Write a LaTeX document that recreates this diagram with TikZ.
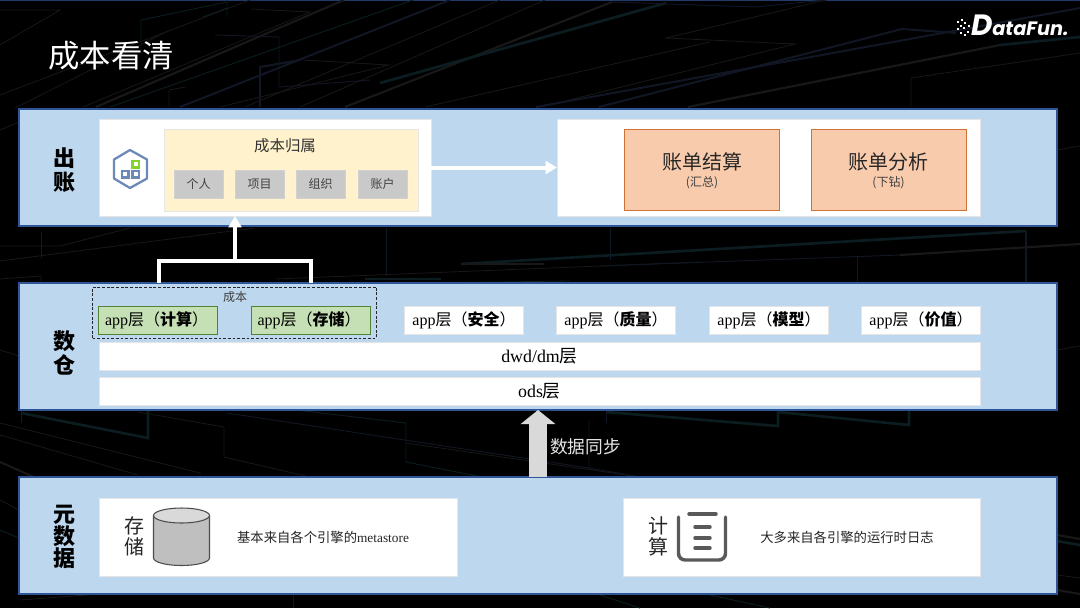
\documentclass[tikz,border=0pt]{standalone}
\usepackage{fontspec}
\setmainfont{Liberation Serif}
\newfontfamily\cjk{Noto Sans CJK SC}
\newfontfamily\logofont{Poppins}
\usetikzlibrary{arrows.meta}
\definecolor{panelfill}{HTML}{BDD7EE}
\definecolor{panelline}{HTML}{2F5597}
\definecolor{yel}{HTML}{FFF2CC}
\definecolor{gry}{HTML}{C9C9C9}
\definecolor{grn}{HTML}{C5E0B4}
\definecolor{grnline}{HTML}{548235}
\definecolor{org}{HTML}{F8CBAD}
\definecolor{orgline}{HTML}{C55A11}
\definecolor{bgA}{HTML}{181818}
\definecolor{bgB}{HTML}{0B1D21}
\definecolor{bgC}{HTML}{101624}
\definecolor{hexc}{HTML}{6B8AB8}
\definecolor{hexg}{HTML}{82D228}
\newcommand{\fs}[1]{\fontsize{#1}{#1}\selectfont}
\tikzset{
  x=0.75pt,y=-0.75pt,
  sz/.style 2 args={minimum width=#1*0.75pt,minimum height=#2*0.75pt},
  box/.style={anchor=center,inner sep=0pt,outer sep=0pt,align=center,text=black},
  panel/.style={box,fill=panelfill,draw=panelline,line width=0.85pt},
  whitebox/.style={box,fill=white,draw=black!10,line width=0.7pt},
  yelbox/.style={box,fill=yel,draw=black!10,line width=0.7pt},
  tagbox/.style={box,fill=gry,draw=black!18,line width=0.7pt,text=black!75,font=\cjk\fs{9}},
  orgbox/.style={box,fill=org,draw=orgline!85!white,line width=0.7pt},
  grnbox/.style={box,fill=grn,draw=grnline,line width=0.7pt},
  lbl/.style={inner sep=0pt,outer sep=0pt,align=center},
  sidelabel/.style={lbl,font=\cjk\bfseries\fs{16.5}},
  wline/.style={draw=white,line width=3pt},
  bga/.style={line width=0.6pt,draw=bgA},
  bgaa/.style={line width=1.6pt,draw=bgA},
  bgb/.style={line width=0.7pt,draw=bgB},
  bgbb/.style={line width=2pt,draw=bgB},
  bgc/.style={line width=0.7pt,draw=bgC},
  bgcc/.style={line width=1.5pt,draw=bgC},
}
\begin{document}
\begin{tikzpicture}
\useasboundingbox (0,0) rectangle (1080,608);
\fill[black] (0,0) rectangle (1080,608);
\fill[panelline!70!black] (0,0) rectangle (1080,1);
% background, top band
\draw[bga] (0,45) -- (60,10) -- (0,10);
\draw[bga] (15,108) -- (170,30);
\draw[bga] (0,95) -- (250,0);
\draw[bgb] (141,55) -- (141,20) -- (227,2);
\draw[bgb] (203,17) -- (227,8) (227,0) -- (227,17);
\draw[bga] (251,9) -- (310,12) -- (83,107);
\draw[bgc] (215,35) -- (279,37) -- (279,87) -- (370,80);
\draw[bgcc] (260,107) -- (260,67) -- (300,60);
\draw[bga] (303,60) -- (389,65) -- (220,107);
\draw[bga] (169,107) -- (169,90) -- (186,87);
\draw[bgaa] (96,107) -- (344,0);
\draw[bgb] (110,107) -- (413,0);
\draw[bgcc] (180,107) -- (450,0);
\draw[bga] (245,107) -- (500,0);
\draw[bga] (300,107) -- (545,0);
\draw[bgaa] (345,107) -- (612,2);
\draw[bgbb] (380,83) -- (666,3);
\draw[bgc] (612,2) -- (755,7) -- (826,0);
\draw[bga] (826,0) -- (666,38) -- (795,44) -- (541,107);
\draw[bga] (425,107) -- (710,42);
\draw[bgcc] (599,107) -- (902,29) -- (956,33);
\draw[bgcc] (536,107) -- (1080,8);
\draw[bgaa] (688,107) -- (1000,45);
\draw[bgbb] (1000,45) -- (1080,37);
\draw[bga] (911,107) -- (911,78) -- (1080,53);
% gap 226..283
\draw[bga] (41,232) -- (41,258);
\draw[bga] (0,261) -- (255,228);
\draw[bga] (0,246) -- (60,246) -- (130,228);
\draw[bga] (0,279) -- (41,276) -- (41,283);
\draw[bgc] (386,228) -- (386,276);
\draw[bgc] (610,228) -- (610,260);
\draw[bgc] (857,257) -- (857,283);
\draw[bgbb] (461,264) -- (1026,231);
\draw[bgaa] (461,264) -- (544,264);
\draw[bgcc] (1026,231) -- (1026,283);
\draw[bga] (275,279) -- (700,262);
\draw[bgc] (600,266) -- (900,255);
\draw[bgaa] (900,255) -- (1080,244);
\draw[bgbb] (365,279) -- (441,279);
\draw[bga] (420,283) -- (570,281);
% gap 410..477
\draw[bgb] (21,410) -- (21,423);
\draw[bgbb] (21,413) -- (148,438) -- (148,410);
\draw[bga] (138,412) -- (224,427) -- (224,457) -- (310,477);
\draw[bgc] (227,413) -- (589,468);
\draw[bgb] (296,410) -- (406,423) -- (406,462) -- (482,477);
\draw[bga] (0,423) -- (200,473) -- (200,477);
\draw[bga] (0,435) -- (138,475);
\draw[bgaa] (0,462) -- (34,477);
\draw[bga] (406,443) -- (640,477);
\draw[bgc] (589,420) -- (589,468) -- (640,477);
\draw[bgbb] (606,412) -- (778,426) -- (778,410);
\draw[bgbb] (778,412) -- (909,425) -- (909,410);
\draw[bgc] (606,410) -- (606,423);
% sides and bottom
\draw[bga] (0,130) -- (19,122);
\draw[bga] (0,350) -- (19,356);
\draw[bga] (0,500) -- (19,510);
\draw[bgb] (0,530) -- (19,538);
\draw[bga] (20,600) -- (100,594);
\draw[bgc] (293,594) -- (293,608);
\draw[bgb] (600,595) -- (640,608);
\draw[bgb] (710,595) -- (770,608);
\draw[bgaa] (1057,535) -- (1080,539);
\draw[bgbb] (1057,541) -- (1080,545);
\draw[bga] (1057,575) -- (1080,578);
\draw[bgaa] (1057,590) -- (1080,594);
\draw[bga] (1057,150) -- (1080,146);
\draw[bga] (1057,350) -- (1080,346);

% title + logo
\node[lbl,anchor=center,text=white,font=\cjk\fs{23.5}] (title) at (111,56) {成本看清};
\foreach \a/\b in {957/21,961/19,964/22,960/25,957/28,963/27,960/32,967/31,964/34,968/25}{
  \fill[white] (\a,\b) rectangle (\a+2.2,\b+2.2);
}
\node[lbl,anchor=base west,text=white,font=\logofont\bfseries\itshape\fs{14.5}] (logo) at (971,35) {{\fs{22}D}ataFun.};

% panels
\node[panel,sz={1038}{117}] (top) at (538,167.5) {};
\node[panel,sz={1038}{127}] (mid) at (538,346.5) {};
\node[panel,sz={1038}{117}] (bot) at (538,535.5) {};
\node[sidelabel] (l1) at (64,170) {出\\[1pt]账};
\node[sidelabel] (l2) at (64,353) {数\\[1pt]仓};
\node[sidelabel] (l3) at (64,536.5) {元\\数\\据};

% billing row
\node[whitebox,sz={332}{97}] (wl) at (265,167.5) {};
\node[whitebox,sz={423}{97}] (wr) at (768.5,167.5) {};
\node[yelbox,sz={254}{82}] (attr) at (291,170) {};
\node[lbl,font=\cjk\fs{11.6},text=black!80] (attrt) at (285,146) {成本归属};
\node[tagbox,sz={49}{28}] (t1) at (198.5,184) {个人};
\node[tagbox,sz={49}{28}] (t2) at (259.5,184) {项目};
\node[tagbox,sz={49}{28}] (t3) at (320.5,184) {组织};
\node[tagbox,sz={49}{28}] (t4) at (382.5,184) {账户};
% hexagon icon
\draw[draw=hexc,line width=1.7pt,line join=round] (130,150) -- (147,159.5) -- (147,178.5) -- (130,188) -- (114,178.5) -- (114,159.5) -- cycle;
\draw[draw=hexc,line width=1.6pt] (122,171) rectangle (128.5,177.5);
\draw[draw=hexc,line width=1.6pt] (132.5,171) rectangle (139,177.5);
\draw[draw=hexg,line width=1.8pt] (132.5,161) rectangle (139,167.5);

\node[orgbox,sz={155}{81}] (b1) at (702,170) {};
\node[orgbox,sz={155}{81}] (b2) at (888.5,170) {};
\node[lbl,font=\cjk\fs{15},text=black!85] (b1t) at (702,162) {账单结算};
\node[lbl,font=\cjk\fs{9},text=black!75] (b1s) at (702,183) {(汇总)};
\node[lbl,font=\cjk\fs{15},text=black!85] (b2t) at (888.5,162) {账单分析};
\node[lbl,font=\cjk\fs{9},text=black!75] (b2s) at (888.5,183) {(下钻)};

% warehouse
\node[box,draw=black!85,dash pattern=on 2.2pt off 1.3pt,line width=0.7pt,sz={284}{51}] (cost) at (234.5,312.5) {};
\node[lbl,font=\cjk\fs{9},text=black!75] (costt) at (235,297) {成本};
\newcommand{\applab}[1]{\fs{12}app{\cjk 层（#1）}}
\node[grnbox,sz={119}{28}] (a1) at (158,320) {\applab{\textbf{计算}}\hspace*{2pt}};
\node[grnbox,sz={119}{28}] (a2) at (310.5,320) {\applab{\textbf{存储}}\hspace*{2pt}};
\node[whitebox,sz={119}{28}] (a3) at (464,320) {\applab{\textbf{安全}}};
\node[whitebox,sz={119}{28}] (a4) at (616,320) {\applab{\textbf{质量}}};
\node[whitebox,sz={119}{28}] (a5) at (769,320) {\applab{\textbf{模型}}};
\node[whitebox,sz={119}{28}] (a6) at (921,320) {\applab{\textbf{价值}}};
\node[whitebox,sz={881}{28},font=\fs{13.4}] (dwd) at (539.5,356) {dwd/dm{\cjk 层}};
\node[whitebox,sz={881}{28},font=\fs{13.4}] (ods) at (539.5,391) {ods{\cjk 层}};

% metadata
\node[whitebox,sz={358}{78}] (ms) at (278,537) {};
\node[whitebox,sz={357}{78}] (mc) at (801.5,537) {};
\node[lbl,font=\cjk\fs{15},text=black!85] (mst) at (134,536.5) {存\\[1pt]储};
\node[lbl,font=\cjk\fs{15},text=black!85] (mct) at (658,536.5) {计\\[1pt]算};
\node[lbl,font=\fs{10},text=black!85] (msd) at (323,537) {{\cjk 基本来自各个引擎的}metastore};
\node[lbl,font=\cjk\fs{10},text=black!85] (mcd) at (847,537) {大多来自各引擎的运行时日志};
% cylinder
\draw[draw=black!70,fill=black!25,line width=0.8pt] (153.5,516) -- (153.5,558) arc[start angle=180,end angle=0,x radius=28,y radius=7.5] -- (209.5,516) -- cycle;
\draw[draw=black!70,fill=black!15,line width=0.8pt] (181.5,515.5) ellipse[x radius=28,y radius=7.5];
% list icon
\draw[draw=black!65,line width=2.6pt,line cap=round,rounded corners=5pt] (678.5,517) -- (678.5,560) -- (725.5,560) -- (725.5,517);
\draw[draw=black!65,line width=2.6pt,line cap=round] (689,514) -- (716,514);
\foreach \yy in {527,538,548}{\draw[draw=black!65,line width=2.6pt,line cap=round] (695,\yy) -- (710,\yy);}

% connectors
\coordinate (c1) at (158.5,283);
\coordinate (c2) at (311,283);
\coordinate (jn) at (235,261);
\draw[wline] (c1) |- (jn -| c2) -- (c2);
\draw[wline,-{Triangle[length=8.5pt,width=9.5pt]}] (jn) -- (jn |- wl.south);
\draw[wline,-{Triangle[length=8.5pt,width=9.5pt]}] (wl.east |- top.center) -- (wr.west |- top.center);
\coordinate (s0) at (538,477);
\draw[draw=black!15,line width=13pt,-{Triangle[length=10.5pt,width=25.5pt]}] (s0) -- (s0 |- mid.south);
\node[lbl,text=white!90!black,font=\cjk\fs{13.3}] (sync) at (585.5,447) {数据同步};
\end{tikzpicture}
\end{document}
